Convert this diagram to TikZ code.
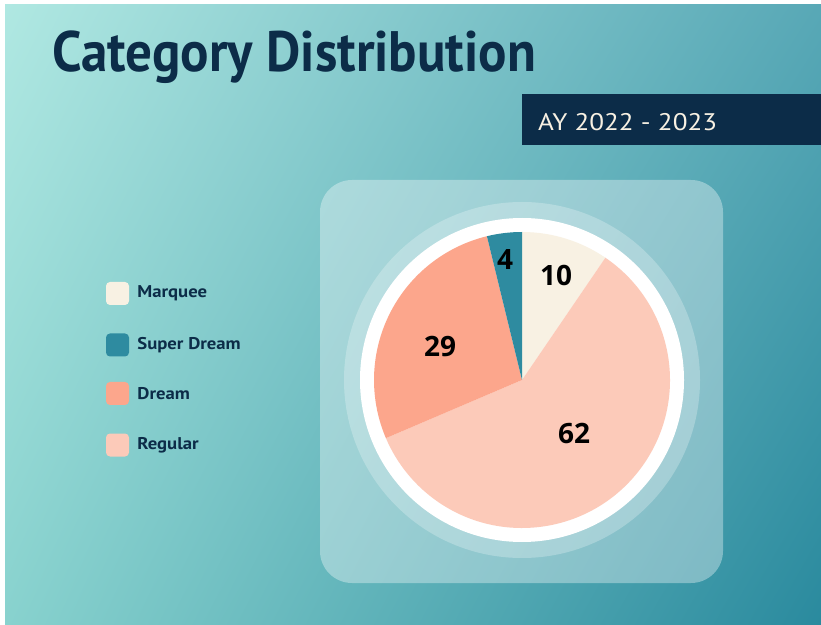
\documentclass[tikz,border=0pt]{standalone}
\usepackage{fontspec}
\setmainfont{PT Sans}
\newfontfamily\numfont{Open Sans}
\usetikzlibrary{positioning,shadings}

\definecolor{bgA}{HTML}{B0E8E2}
\definecolor{bgB}{HTML}{58A8B6}
\definecolor{bgC}{HTML}{88D2CE}
\definecolor{bgD}{HTML}{2A8A9E}
\definecolor{navy}{HTML}{0C2C48}
\definecolor{marquee}{HTML}{F8F1E3}
\definecolor{superdream}{HTML}{2E8BA0}
\definecolor{dream}{HTML}{FCA68C}
\definecolor{regular}{HTML}{FCCAB9}

\tikzset{
  legbox/.style={rectangle,rounded corners=4pt,minimum size=23pt,inner sep=0pt},
  legtext/.style={anchor=west,inner sep=0pt,text=navy,font=\bfseries\fontsize{17}{19}\selectfont,xscale=1.1},
  slicenum/.style={inner sep=0pt,font=\numfont\bfseries\fontsize{28}{30}\selectfont}
}

\begin{document}
\begin{tikzpicture}[x=1pt,y=1pt]
\useasboundingbox (0,0) rectangle (821,624);
\fill[white] (0,0) rectangle (821,624);
\shade[upper left=bgA,upper right=bgB,lower left=bgC,lower right=bgD] (5,0) rectangle (821,619);
% title and year band
\node[anchor=base west,inner sep=0pt,text=navy,font=\bfseries\fontsize{57}{60}\selectfont,xscale=0.93] (title) at (52,552) {Category Distribution};
\fill[navy] (522,479) rectangle (821,530);
\node[anchor=base west,inner sep=0pt,text=marquee,font=\fontsize{24}{26}\selectfont,xscale=1.13] (year) at (538,493) {AY 2022 - 2023};
% panel behind the pie
\fill[white,fill opacity=0.35,rounded corners=32pt] (320,41) rectangle (723,444);
\coordinate (c) at (522,244);
\fill[white,fill opacity=0.25] (c) circle(178);
\fill[white] (c) circle(162);
% slices, clockwise from the top: 10, 62, 29, 4 (of 105)
\fill[marquee] (c) -- ++(90:148) arc[start angle=90,end angle=55.71,radius=148] -- cycle;
\fill[regular] (c) -- ++(55.71:148) arc[start angle=55.71,end angle=-156.86,radius=148] -- cycle;
\fill[dream] (c) -- ++(-156.86:148) arc[start angle=-156.86,end angle=-256.29,radius=148] -- cycle;
\fill[superdream] (c) -- ++(103.71:148) arc[start angle=103.71,end angle=90,radius=148] -- cycle;
\node[slicenum] (n10) at (556,349) {10};
\node[slicenum] (n4) at (505,364) {4};
\node[slicenum] (n29) at (440,278) {29};
\node[slicenum] (n62) at (574,191) {62};
% legend
\node[legbox,fill=marquee] (m) at (117.5,330.5) {};
\node[legbox,fill=superdream] (s) at (117.5,279) {};
\node[legbox,fill=dream] (d) at (117.5,230.5) {};
\node[legbox,fill=regular] (r) at (117.5,179) {};
\node[legtext,right=8pt of m] (mt) {Marquee};
\node[legtext,right=8pt of s] (st) {Super Dream};
\node[legtext,right=8pt of d] (dt) {Dream};
\node[legtext,right=8pt of r] (rt) {Regular};
\end{tikzpicture}
\end{document}
